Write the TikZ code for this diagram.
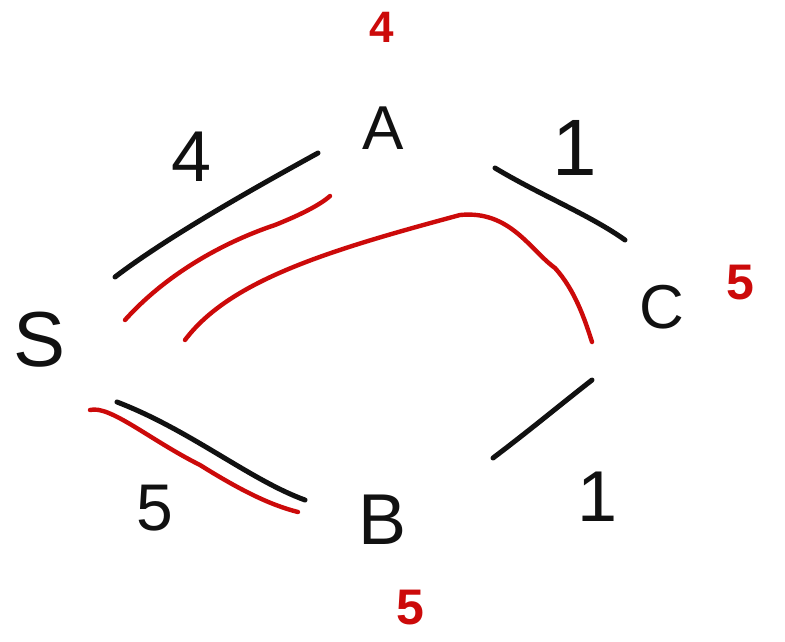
\documentclass[tikz,border=0pt]{standalone}
\usepackage{fontspec}
\setmainfont{Liberation Sans}
\definecolor{pen}{HTML}{111111}
\definecolor{redpen}{HTML}{CC0A0A}
\begin{document}
\begin{tikzpicture}[x=1pt,y=-1pt,
  vlabel/.style={text=pen,font=\fontsize{62}{62}\selectfont,inner sep=0pt},
  wlabel/.style={text=pen,font=\fontsize{66}{66}\selectfont,inner sep=0pt},
  rlabel/.style={text=redpen,font=\bfseries\fontsize{50}{50}\selectfont,inner sep=0pt},
  edge/.style={draw=pen,line width=5pt,line cap=round},
  path/.style={draw=redpen,line width=4.4pt,line cap=round}]
\useasboundingbox (0,0) rectangle (785,641);
\fill[white] (0,0) rectangle (785,641);
% vertices
\node[vlabel,font=\fontsize{78}{78}\selectfont] (S) at (40,340) {S};
\node[vlabel] (A) at (383,128) {A};
\node[vlabel] (C) at (662,307) {C};
\node[vlabel,font=\fontsize{72}{72}\selectfont] (B) at (383,520) {B};
% edge weights
\node[wlabel,font=\fontsize{72}{72}\selectfont] (wSA) at (192,157) {4};
\node[wlabel,font=\fontsize{80}{80}\selectfont] (wAC) at (575,148) {1};
\node[wlabel] (wSB) at (155,508) {5};
\node[wlabel,font=\fontsize{72}{72}\selectfont] (wCB) at (598,497) {1};
% distances
\node[rlabel,font=\bfseries\fontsize{44}{44}\selectfont] (dA) at (382,27) {4};
\node[rlabel] (dC) at (740,283) {5};
\node[rlabel] (dB) at (410,608) {5};
% edge coordinates
\coordinate (sa1) at (115,277); \coordinate (sa2) at (318,153);
\coordinate (ac1) at (495,168); \coordinate (ac2) at (625,240);
\coordinate (cb1) at (592,380); \coordinate (cb2) at (493,458);
\coordinate (sb1) at (117,402); \coordinate (sb2) at (305,500);
\path[edge] (sa1) .. controls (170,235) and (260,185) .. (sa2);
\path[edge] (ac1) .. controls (540,195) and (590,215) .. (ac2);
\path[edge] (cb1) .. controls (560,405) and (530,430) .. (cb2);
\path[edge] (sb1) .. controls (190,430) and (250,480) .. (sb2);
% red paths
\coordinate (r1a) at (125,320); \coordinate (r1b) at (330,196);
\coordinate (r2a) at (185,340); \coordinate (r2m) at (460,215); \coordinate (r2b) at (592,342);
\coordinate (r3a) at (90,410); \coordinate (r3b) at (298,512);
\path[path] (r1a) .. controls (170,270) and (230,240) .. (275,225) .. controls (300,215) and (320,205) .. (r1b);
\path[path] (r2a) .. controls (230,280) and (330,250) .. (r2m) .. controls (510,210) and (530,250) .. (555,268) .. controls (575,290) and (585,320) .. (r2b);
\path[path] (r3a) .. controls (110,405) and (150,440) .. (200,465) .. controls (240,490) and (270,505) .. (r3b);
\end{tikzpicture}
\end{document}
